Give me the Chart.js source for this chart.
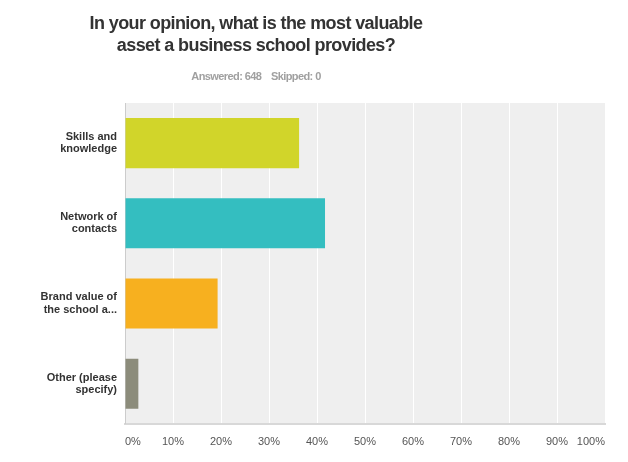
<!DOCTYPE html>
<html>
<head>
<meta charset="utf-8">
<script src="https://cdn.jsdelivr.net/npm/chart.js@4"></script>
<style>
  html, body { margin: 0; padding: 0; background: #fff; }
</style>
</head>
<body>
<canvas id="chart" width="628" height="462"></canvas>
<script>
// chart data
const titleLines = ['In your opinion, what is the most valuable', 'asset a business school provides?'];
const subtitleText = 'Answered: 648    Skipped: 0';
const categories = [
  ['Skills and', 'knowledge'],
  ['Network of', 'contacts'],
  ['Brand value of', 'the school a...'],
  ['Other (please', 'specify)']
];
const percentValues = [36.27, 41.67, 19.29, 2.78];
const barColors = ['#d1d52a', '#34bec0', '#f7b01f', '#8c8c7b'];
const tickStep = 10;

// grey plot background behind the bars
const plotBackground = {
  id: 'plotBackground',
  beforeDraw(chart) {
    const { ctx, chartArea: a } = chart;
    ctx.save();
    ctx.fillStyle = '#efefef';
    ctx.fillRect(a.left, a.top, a.right - a.left, a.bottom - a.top);
    ctx.restore();
  }
};

// title + answered/skipped line, centred like the survey export
const header = {
  id: 'header',
  afterDraw(chart) {
    const ctx = chart.ctx;
    ctx.save();
    ctx.textAlign = 'center';
    ctx.textBaseline = 'alphabetic';
    ctx.fillStyle = '#333333';
    ctx.font = 'bold 18px "Liberation Sans", Arial, Helvetica, sans-serif';
    ctx.letterSpacing = '-0.6px';
    ctx.fillText(titleLines[0], 256, 29);
    ctx.fillText(titleLines[1], 256, 51);
    ctx.fillStyle = '#a0a0a0';
    ctx.font = 'bold 11px "Liberation Sans", Arial, Helvetica, sans-serif';
    ctx.letterSpacing = '-0.6px';
    ctx.fillText(subtitleText, 256, 80);
    ctx.restore();
  }
};

const ctx = document.getElementById('chart').getContext('2d');
new Chart(ctx, {
  type: 'bar',
  data: {
    labels: categories,
    datasets: [{
      data: percentValues,
      backgroundColor: barColors,
      borderWidth: 0,
      barPercentage: 0.625,
      categoryPercentage: 1.0
    }]
  },
  options: {
    indexAxis: 'y',
    responsive: false,
    animation: false,
    layout: { padding: { top: 103, right: 23, bottom: 1, left: 0 } },
    plugins: {
      legend: { display: false },
      tooltip: { enabled: false },
      title: { display: false }
    },
    scales: {
      x: {
        min: 0,
        max: 100,
        grid: { color: '#ffffff', lineWidth: 1, drawTicks: false },
        border: { display: true, color: '#d8d8d8', width: 2 },
        ticks: {
          stepSize: tickStep,
          align: 'inner',
          padding: 12,
          color: '#555555',
          font: { family: '"Liberation Sans", Arial, Helvetica, sans-serif', size: 11 },
          callback: v => v + '%'
        }
      },
      y: {
        grid: { display: false, drawTicks: false },
        border: { display: true, color: '#cccccc', width: 1 },
        afterFit: s => { s.width = 125; },
        ticks: {
          padding: 8,
          color: '#333333',
          font: { family: '"Liberation Sans", Arial, Helvetica, sans-serif', size: 11, weight: 'bold', lineHeight: 1.1 }
        }
      }
    }
  },
  plugins: [plotBackground, header]
});
</script>
</body>
</html>
